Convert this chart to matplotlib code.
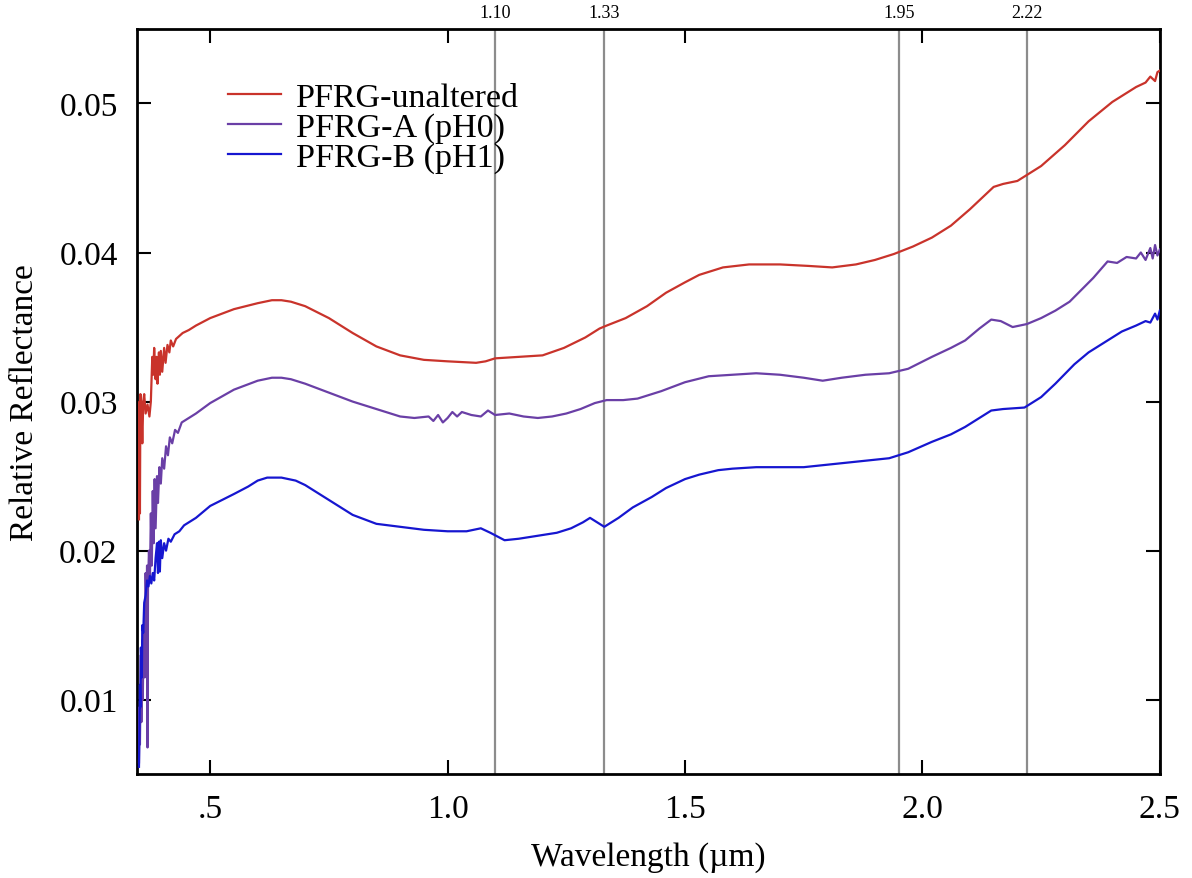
import matplotlib
matplotlib.use("Agg")
import matplotlib.pyplot as plt
from matplotlib.ticker import FixedLocator, FixedFormatter

plt.rcParams['font.family'] = ['Liberation Serif', 'DejaVu Serif']

# wavelength (um) and relative reflectance
wl_red = [0.350, 0.351, 0.352, 0.353, 0.355, 0.357, 0.359, 0.361, 0.364, 0.368, 0.372, 0.375,
          0.378, 0.380, 0.382, 0.385, 0.387, 0.389, 0.392, 0.394, 0.396, 0.399, 0.403, 0.406,
          0.410, 0.414, 0.417, 0.422, 0.428, 0.435, 0.442, 0.455, 0.470, 0.50, 0.55, 0.60,
          0.63, 0.65, 0.67, 0.70, 0.75, 0.80, 0.85, 0.90, 0.95, 1.00, 1.06, 1.08, 1.10, 1.15, 1.20, 1.245,
          1.29, 1.32, 1.335, 1.375, 1.42, 1.46, 1.50, 1.53, 1.58, 1.635, 1.70, 1.76, 1.81,
          1.86, 1.90, 1.94, 1.98, 2.02, 2.06, 2.10, 2.13, 2.15, 2.17, 2.20, 2.22, 2.25, 2.30,
          2.35, 2.40, 2.43, 2.45, 2.47, 2.48, 2.49, 2.495, 2.50]
refl_red = [0.0221, 0.0300, 0.0225, 0.0305, 0.0298, 0.0272, 0.0300, 0.0305, 0.0292, 0.0298, 0.0290, 0.0300,
            0.0330, 0.0318, 0.0336, 0.0315, 0.0330, 0.0312, 0.0333, 0.0318, 0.0334, 0.0320, 0.0336, 0.0326,
            0.0338, 0.0333, 0.0341, 0.0337, 0.0342, 0.0344, 0.0346, 0.0348, 0.0351, 0.0356, 0.0362, 0.0366,
            0.0368, 0.0368, 0.0367, 0.0364, 0.0356, 0.0346, 0.0337, 0.0331, 0.0328, 0.0327, 0.0326, 0.0327, 0.0329, 0.0330, 0.0331, 0.0336,
            0.0343, 0.0349, 0.0351, 0.0356, 0.0364, 0.0373, 0.0380, 0.0385, 0.0390, 0.0392, 0.0392, 0.0391, 0.0390,
            0.0392, 0.0395, 0.0399, 0.0404, 0.0410, 0.0418, 0.0429, 0.0438, 0.0444, 0.0446, 0.0448, 0.0452, 0.0458, 0.0472,
            0.0488, 0.0501, 0.0507, 0.0511, 0.0514, 0.0518, 0.0515, 0.0521, 0.0522]

wl_a = [0.350, 0.351, 0.352, 0.354, 0.355, 0.357, 0.358, 0.360, 0.362, 0.364, 0.366, 0.367,
        0.368, 0.369, 0.371, 0.373, 0.375, 0.377, 0.379, 0.381, 0.383, 0.385, 0.388, 0.390,
        0.393, 0.396, 0.399, 0.403, 0.407, 0.411, 0.415, 0.420, 0.426, 0.432, 0.440, 0.450,
        0.470, 0.50, 0.55, 0.60, 0.63, 0.65, 0.67, 0.70, 0.75, 0.80, 0.85, 0.90, 0.93, 0.96, 0.97, 0.98,
        0.99, 1.00, 1.01, 1.02, 1.03, 1.05, 1.07, 1.085, 1.10, 1.13, 1.16, 1.19, 1.22, 1.25,
        1.28, 1.31, 1.335, 1.37, 1.40, 1.45, 1.50, 1.55, 1.60, 1.65, 1.70, 1.75, 1.79, 1.83,
        1.88, 1.93, 1.97, 2.02, 2.06, 2.09, 2.12, 2.145, 2.165, 2.19, 2.22, 2.25, 2.28, 2.31,
        2.335, 2.36, 2.39, 2.41, 2.43, 2.45, 2.46, 2.47, 2.48, 2.485, 2.49, 2.495, 2.50]
refl_a = [0.0058, 0.0095, 0.0070, 0.0130, 0.0085, 0.0140, 0.0100, 0.0150, 0.0115, 0.0185, 0.0150, 0.0190,
          0.0068, 0.0175, 0.0200, 0.0180, 0.0225, 0.0190, 0.0240, 0.0205, 0.0248, 0.0215, 0.0250, 0.0232,
          0.0256, 0.0245, 0.0262, 0.0255, 0.0270, 0.0264, 0.0276, 0.0272, 0.0281, 0.0279, 0.0286, 0.0288,
          0.0292, 0.0299, 0.0308, 0.0314, 0.0316, 0.0316, 0.0315, 0.0312, 0.0306, 0.0300, 0.0295, 0.0290, 0.0289, 0.0290, 0.0287, 0.0291,
          0.0286, 0.0289, 0.0293, 0.0290, 0.0293, 0.0291, 0.0290, 0.0294, 0.0291, 0.0292, 0.0290, 0.0289, 0.0290, 0.0292,
          0.0295, 0.0299, 0.0301, 0.0301, 0.0302, 0.0307, 0.0313, 0.0317, 0.0318, 0.0319, 0.0318, 0.0316, 0.0314, 0.0316,
          0.0318, 0.0319, 0.0322, 0.0330, 0.0336, 0.0341, 0.0349, 0.0355, 0.0354, 0.0350, 0.0352, 0.0356, 0.0361, 0.0367,
          0.0375, 0.0383, 0.0394, 0.0393, 0.0397, 0.0396, 0.0400, 0.0395, 0.0403, 0.0396, 0.0405, 0.0398, 0.0402]

wl_b = [0.350, 0.351, 0.352, 0.353, 0.354, 0.356, 0.357, 0.359, 0.361, 0.364, 0.367, 0.370,
        0.373, 0.376, 0.379, 0.382, 0.385, 0.388, 0.390, 0.392, 0.394, 0.396, 0.399, 0.403,
        0.407, 0.412, 0.417, 0.425, 0.435, 0.445, 0.47, 0.50, 0.55, 0.58, 0.60, 0.62, 0.65,
        0.68, 0.70, 0.75, 0.80, 0.85, 0.90, 0.95, 1.00, 1.04, 1.07, 1.09, 1.12, 1.15, 1.19, 1.23,
        1.26, 1.285, 1.30, 1.315, 1.33, 1.36, 1.39, 1.43, 1.46, 1.50, 1.53, 1.57, 1.60, 1.65,
        1.70, 1.75, 1.81, 1.87, 1.93, 1.97, 2.02, 2.06, 2.09, 2.12, 2.145, 2.17, 2.215, 2.25,
        2.28, 2.32, 2.35, 2.38, 2.42, 2.45, 2.47, 2.48, 2.49, 2.495, 2.50]
refl_b = [0.0055, 0.0080, 0.0110, 0.0095, 0.0135, 0.0115, 0.0150, 0.0145, 0.0165, 0.0170, 0.0180, 0.0176,
          0.0183, 0.0178, 0.0185, 0.0180, 0.0195, 0.0205, 0.0185, 0.0206, 0.0186, 0.0207, 0.0195, 0.0205,
          0.0200, 0.0208, 0.0206, 0.0211, 0.0213, 0.0217, 0.0222, 0.0230, 0.0238, 0.0243, 0.0247, 0.0249, 0.0249,
          0.0247, 0.0244, 0.0234, 0.0224, 0.0218, 0.0216, 0.0214, 0.0213, 0.0213, 0.0215, 0.0212, 0.0207, 0.0208, 0.0210, 0.0212,
          0.0215, 0.0219, 0.0222, 0.0219, 0.0216, 0.0222, 0.0229, 0.0236, 0.0242, 0.0248, 0.0251, 0.0254, 0.0255, 0.0256,
          0.0256, 0.0256, 0.0258, 0.0260, 0.0262, 0.0266, 0.0273, 0.0278, 0.0283, 0.0289, 0.0294, 0.0295, 0.0296, 0.0303,
          0.0312, 0.0325, 0.0333, 0.0339, 0.0347, 0.0351, 0.0354, 0.0353, 0.0359, 0.0355, 0.0361]

labels = ['PFRG-unaltered', 'PFRG-A (pH0)', 'PFRG-B (pH1)']
colors = ['#c9332b', '#6a3fa6', '#1616d0']

band_pos = [1.10, 1.33, 1.95, 2.22]
band_labels = ['1.10', '1.33', '1.95', '2.22']

x_ticks = [0.5, 1.0, 1.5, 2.0, 2.5]
x_ticklabels = ['.5', '1.0', '1.5', '2.0', '2.5']
y_ticks = [0.01, 0.02, 0.03, 0.04, 0.05]
y_ticklabels = ['0.01', '0.02', '0.03', '0.04', '0.05']

fig = plt.figure(figsize=(11.92, 8.79), dpi=100)
ax = fig.add_axes([0.115, 0.118, 0.858, 0.848])

# band position lines
for p, lab in zip(band_pos, band_labels):
    ax.axvline(p, color='#8c8c8c', lw=1.6, zorder=1)
    ax.text(p, 0.0555, lab, ha='center', va='bottom', fontsize=13)

ax.plot(wl_red, refl_red, color=colors[0], lw=1.6, label=labels[0], zorder=3)
ax.plot(wl_a, refl_a, color=colors[1], lw=1.6, label=labels[1], zorder=3)
ax.plot(wl_b, refl_b, color=colors[2], lw=1.6, label=labels[2], zorder=3)

ax.set_xlim(0.346, 2.5)
ax.set_ylim(0.005, 0.055)

ax.xaxis.set_major_locator(FixedLocator(x_ticks))
ax.xaxis.set_major_formatter(FixedFormatter(x_ticklabels))
ax.yaxis.set_major_locator(FixedLocator(y_ticks))
ax.yaxis.set_major_formatter(FixedFormatter(y_ticklabels))
ax.tick_params(direction='in', length=10, width=1.5, labelsize=24,
               top=True, right=True, pad=14)
for s in ax.spines.values():
    s.set_linewidth(2)

ax.set_xlabel('Wavelength (µm)', fontsize=24, labelpad=12)
ax.set_ylabel('Relative Reflectance', fontsize=24, labelpad=14)

ax.legend(loc='upper left', bbox_to_anchor=(0.089, 0.929), frameon=False,
          fontsize=24.5, handlelength=1.55, handletextpad=0.45, labelspacing=-0.02,
          borderaxespad=0, borderpad=0)

fig.savefig('out.png', dpi=100)
